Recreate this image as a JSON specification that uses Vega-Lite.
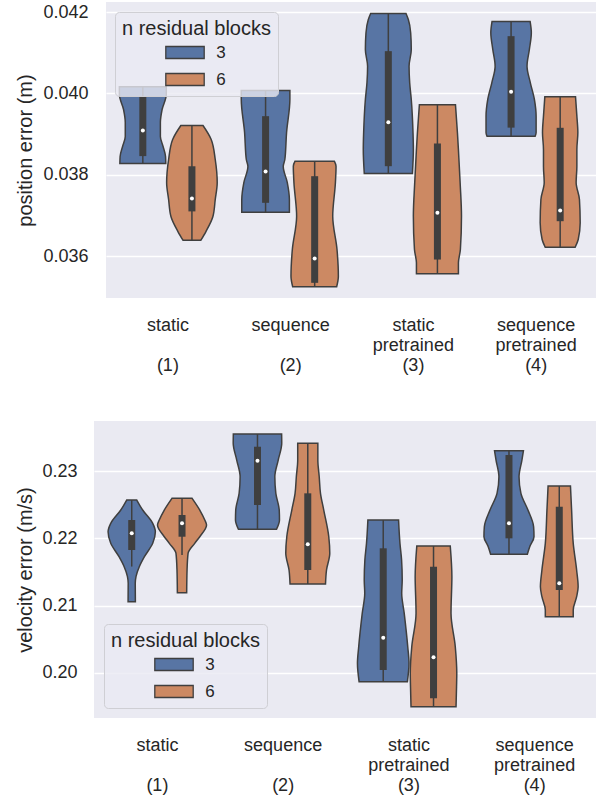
{
  "$schema": "https://vega.github.io/schema/vega-lite/v6.json",
  "padding": {"left": 14, "top": 2, "right": 0, "bottom": 0},
  "datasets": {
    "pos_shape": [
      {"m": 1, "blocks": "3", "y": 0.040165, "w": 0.191}, {"m": 1, "blocks": "3", "y": 0.039975, "w": 0.191}, {"m": 1, "blocks": "3", "y": 0.039606, "w": 0.157}, {"m": 1, "blocks": "3", "y": 0.039287, "w": 0.143}, {"m": 1, "blocks": "3", "y": 0.038942, "w": 0.143}, {"m": 1, "blocks": "3", "y": 0.038696, "w": 0.165}, {"m": 1, "blocks": "3", "y": 0.03845, "w": 0.185}, {"m": 1, "blocks": "3", "y": 0.038278, "w": 0.187},
      {"m": 1, "blocks": "6", "y": 0.039213, "w": 0.09}, {"m": 1, "blocks": "6", "y": 0.038869, "w": 0.157}, {"m": 1, "blocks": "6", "y": 0.038376, "w": 0.19}, {"m": 1, "blocks": "6", "y": 0.03781, "w": 0.206}, {"m": 1, "blocks": "6", "y": 0.037392, "w": 0.19}, {"m": 1, "blocks": "6", "y": 0.036974, "w": 0.171}, {"m": 1, "blocks": "6", "y": 0.036605, "w": 0.114}, {"m": 1, "blocks": "6", "y": 0.036391, "w": 0.073},
      {"m": 2, "blocks": "3", "y": 0.040074, "w": 0.198}, {"m": 2, "blocks": "3", "y": 0.039852, "w": 0.198}, {"m": 2, "blocks": "3", "y": 0.039041, "w": 0.171}, {"m": 2, "blocks": "3", "y": 0.038376, "w": 0.157}, {"m": 2, "blocks": "3", "y": 0.038204, "w": 0.144}, {"m": 2, "blocks": "3", "y": 0.03781, "w": 0.177}, {"m": 2, "blocks": "3", "y": 0.037392, "w": 0.194}, {"m": 2, "blocks": "3", "y": 0.03708, "w": 0.194},
      {"m": 2, "blocks": "6", "y": 0.038335, "w": 0.16}, {"m": 2, "blocks": "6", "y": 0.038212, "w": 0.174}, {"m": 2, "blocks": "6", "y": 0.03781, "w": 0.169}, {"m": 2, "blocks": "6", "y": 0.036982, "w": 0.147}, {"m": 2, "blocks": "6", "y": 0.036162, "w": 0.182}, {"m": 2, "blocks": "6", "y": 0.035505, "w": 0.193}, {"m": 2, "blocks": "6", "y": 0.035245, "w": 0.179},
      {"m": 3, "blocks": "3", "y": 0.041968, "w": 0.144}, {"m": 3, "blocks": "3", "y": 0.04182, "w": 0.163}, {"m": 3, "blocks": "3", "y": 0.041493, "w": 0.182}, {"m": 3, "blocks": "3", "y": 0.041082, "w": 0.187}, {"m": 3, "blocks": "3", "y": 0.040672, "w": 0.169}, {"m": 3, "blocks": "3", "y": 0.040263, "w": 0.174}, {"m": 3, "blocks": "3", "y": 0.039852, "w": 0.187}, {"m": 3, "blocks": "3", "y": 0.039041, "w": 0.201}, {"m": 3, "blocks": "3", "y": 0.038622, "w": 0.204}, {"m": 3, "blocks": "3", "y": 0.038032, "w": 0.196},
      {"m": 3, "blocks": "6", "y": 0.039722, "w": 0.147}, {"m": 3, "blocks": "6", "y": 0.039033, "w": 0.163}, {"m": 3, "blocks": "6", "y": 0.038622, "w": 0.171}, {"m": 3, "blocks": "6", "y": 0.037803, "w": 0.185}, {"m": 3, "blocks": "6", "y": 0.036982, "w": 0.196}, {"m": 3, "blocks": "6", "y": 0.036162, "w": 0.187}, {"m": 3, "blocks": "6", "y": 0.035835, "w": 0.171}, {"m": 3, "blocks": "6", "y": 0.035565, "w": 0.171},
      {"m": 4, "blocks": "3", "y": 0.041771, "w": 0.155}, {"m": 4, "blocks": "3", "y": 0.041493, "w": 0.165}, {"m": 4, "blocks": "3", "y": 0.041082, "w": 0.149}, {"m": 4, "blocks": "3", "y": 0.040672, "w": 0.13}, {"m": 4, "blocks": "3", "y": 0.040263, "w": 0.157}, {"m": 4, "blocks": "3", "y": 0.039852, "w": 0.19}, {"m": 4, "blocks": "3", "y": 0.039434, "w": 0.204}, {"m": 4, "blocks": "3", "y": 0.039041, "w": 0.204}, {"m": 4, "blocks": "3", "y": 0.03895, "w": 0.196},
      {"m": 4, "blocks": "6", "y": 0.039919, "w": 0.125}, {"m": 4, "blocks": "6", "y": 0.039442, "w": 0.136}, {"m": 4, "blocks": "6", "y": 0.039041, "w": 0.144}, {"m": 4, "blocks": "6", "y": 0.038622, "w": 0.136}, {"m": 4, "blocks": "6", "y": 0.038212, "w": 0.136}, {"m": 4, "blocks": "6", "y": 0.03781, "w": 0.13}, {"m": 4, "blocks": "6", "y": 0.037392, "w": 0.157}, {"m": 4, "blocks": "6", "y": 0.036819, "w": 0.163}, {"m": 4, "blocks": "6", "y": 0.036409, "w": 0.147}, {"m": 4, "blocks": "6", "y": 0.036219, "w": 0.122}
    ],
    "pos_box": [
      {"m": 1, "blocks": "3", "wlo": 0.038278, "whi": 0.040165, "q1": 0.03846, "q3": 0.03993, "med": 0.03909},
      {"m": 1, "blocks": "6", "wlo": 0.036391, "whi": 0.039213, "q1": 0.0371, "q3": 0.03821, "med": 0.037417},
      {"m": 2, "blocks": "3", "wlo": 0.03708, "whi": 0.040074, "q1": 0.037311, "q3": 0.039442, "med": 0.038081},
      {"m": 2, "blocks": "6", "wlo": 0.035245, "whi": 0.038335, "q1": 0.035343, "q3": 0.037966, "med": 0.035941},
      {"m": 3, "blocks": "3", "wlo": 0.038032, "whi": 0.041968, "q1": 0.038212, "q3": 0.041041, "med": 0.039294},
      {"m": 3, "blocks": "6", "wlo": 0.035565, "whi": 0.039722, "q1": 0.035916, "q3": 0.03877, "med": 0.037065},
      {"m": 4, "blocks": "3", "wlo": 0.03895, "whi": 0.041771, "q1": 0.03916, "q3": 0.04141, "med": 0.040042},
      {"m": 4, "blocks": "6", "wlo": 0.036219, "whi": 0.039919, "q1": 0.036859, "q3": 0.039156, "med": 0.037122}
    ],
    "vel_shape": [
      {"m": 1, "blocks": "3", "y": 0.225699, "w": 0.04}, {"m": 1, "blocks": "3", "y": 0.224211, "w": 0.087}, {"m": 1, "blocks": "3", "y": 0.222232, "w": 0.167}, {"m": 1, "blocks": "3", "y": 0.220982, "w": 0.188}, {"m": 1, "blocks": "3", "y": 0.219256, "w": 0.167}, {"m": 1, "blocks": "3", "y": 0.217262, "w": 0.101}, {"m": 1, "blocks": "3", "y": 0.2158, "w": 0.061}, {"m": 1, "blocks": "3", "y": 0.2143, "w": 0.034}, {"m": 1, "blocks": "3", "y": 0.213304, "w": 0.028}, {"m": 1, "blocks": "3", "y": 0.210565, "w": 0.029},
      {"m": 1, "blocks": "6", "y": 0.225952, "w": 0.08}, {"m": 1, "blocks": "6", "y": 0.224211, "w": 0.141}, {"m": 1, "blocks": "6", "y": 0.222723, "w": 0.181}, {"m": 1, "blocks": "6", "y": 0.221979, "w": 0.195}, {"m": 1, "blocks": "6", "y": 0.220238, "w": 0.141}, {"m": 1, "blocks": "6", "y": 0.219256, "w": 0.101}, {"m": 1, "blocks": "6", "y": 0.217768, "w": 0.048}, {"m": 1, "blocks": "6", "y": 0.215283, "w": 0.04}, {"m": 1, "blocks": "6", "y": 0.211905, "w": 0.037},
      {"m": 2, "blocks": "3", "y": 0.235521, "w": 0.192}, {"m": 2, "blocks": "3", "y": 0.234137, "w": 0.193}, {"m": 2, "blocks": "3", "y": 0.231651, "w": 0.165}, {"m": 2, "blocks": "3", "y": 0.229166, "w": 0.138}, {"m": 2, "blocks": "3", "y": 0.226696, "w": 0.146}, {"m": 2, "blocks": "3", "y": 0.224211, "w": 0.173}, {"m": 2, "blocks": "3", "y": 0.222723, "w": 0.175}, {"m": 2, "blocks": "3", "y": 0.221339, "w": 0.151},
      {"m": 2, "blocks": "6", "y": 0.234137, "w": 0.08}, {"m": 2, "blocks": "6", "y": 0.231651, "w": 0.08}, {"m": 2, "blocks": "6", "y": 0.229166, "w": 0.091}, {"m": 2, "blocks": "6", "y": 0.226696, "w": 0.101}, {"m": 2, "blocks": "6", "y": 0.224211, "w": 0.127}, {"m": 2, "blocks": "6", "y": 0.220238, "w": 0.167}, {"m": 2, "blocks": "6", "y": 0.217768, "w": 0.175}, {"m": 2, "blocks": "6", "y": 0.215283, "w": 0.149}, {"m": 2, "blocks": "6", "y": 0.213199, "w": 0.141},
      {"m": 3, "blocks": "3", "y": 0.222723, "w": 0.122}, {"m": 3, "blocks": "3", "y": 0.219256, "w": 0.133}, {"m": 3, "blocks": "3", "y": 0.216771, "w": 0.146}, {"m": 3, "blocks": "3", "y": 0.213795, "w": 0.151}, {"m": 3, "blocks": "3", "y": 0.211816, "w": 0.147}, {"m": 3, "blocks": "3", "y": 0.20884, "w": 0.167}, {"m": 3, "blocks": "3", "y": 0.20387, "w": 0.195}, {"m": 3, "blocks": "3", "y": 0.2014, "w": 0.205}, {"m": 3, "blocks": "3", "y": 0.198661, "w": 0.192},
      {"m": 3, "blocks": "6", "y": 0.218854, "w": 0.133}, {"m": 3, "blocks": "6", "y": 0.214286, "w": 0.146}, {"m": 3, "blocks": "6", "y": 0.20884, "w": 0.139}, {"m": 3, "blocks": "6", "y": 0.20387, "w": 0.173}, {"m": 3, "blocks": "6", "y": 0.199912, "w": 0.185}, {"m": 3, "blocks": "6", "y": 0.197918, "w": 0.183}, {"m": 3, "blocks": "6", "y": 0.19494, "w": 0.179},
      {"m": 4, "blocks": "3", "y": 0.233036, "w": 0.115}, {"m": 4, "blocks": "3", "y": 0.231651, "w": 0.103}, {"m": 4, "blocks": "3", "y": 0.229166, "w": 0.08}, {"m": 4, "blocks": "3", "y": 0.226696, "w": 0.095}, {"m": 4, "blocks": "3", "y": 0.224211, "w": 0.151}, {"m": 4, "blocks": "3", "y": 0.221726, "w": 0.196}, {"m": 4, "blocks": "3", "y": 0.220238, "w": 0.199}, {"m": 4, "blocks": "3", "y": 0.21875, "w": 0.165}, {"m": 4, "blocks": "3", "y": 0.217619, "w": 0.146},
      {"m": 4, "blocks": "6", "y": 0.227783, "w": 0.089}, {"m": 4, "blocks": "6", "y": 0.224211, "w": 0.098}, {"m": 4, "blocks": "6", "y": 0.219256, "w": 0.111}, {"m": 4, "blocks": "6", "y": 0.215283, "w": 0.138}, {"m": 4, "blocks": "6", "y": 0.212798, "w": 0.15}, {"m": 4, "blocks": "6", "y": 0.21131, "w": 0.138}, {"m": 4, "blocks": "6", "y": 0.209331, "w": 0.111}, {"m": 4, "blocks": "6", "y": 0.208333, "w": 0.111}
    ],
    "vel_box": [
      {"m": 1, "blocks": "3", "wlo": 0.2158, "whi": 0.225699, "q1": 0.218259, "q3": 0.222723, "med": 0.220744},
      {"m": 1, "blocks": "6", "wlo": 0.2175, "whi": 0.225952, "q1": 0.220238, "q3": 0.223467, "med": 0.222232},
      {"m": 2, "blocks": "3", "wlo": 0.221339, "whi": 0.235521, "q1": 0.224955, "q3": 0.233631, "med": 0.231548},
      {"m": 2, "blocks": "6", "wlo": 0.213199, "whi": 0.234137, "q1": 0.215283, "q3": 0.226696, "med": 0.219107},
      {"m": 3, "blocks": "3", "wlo": 0.198661, "whi": 0.222723, "q1": 0.200402, "q3": 0.218512, "med": 0.205208},
      {"m": 3, "blocks": "6", "wlo": 0.19494, "whi": 0.218854, "q1": 0.19619, "q3": 0.215774, "med": 0.202292},
      {"m": 4, "blocks": "3", "wlo": 0.217619, "whi": 0.233036, "q1": 0.22, "q3": 0.232396, "med": 0.222232},
      {"m": 4, "blocks": "6", "wlo": 0.208333, "whi": 0.227783, "q1": 0.212307, "q3": 0.224702, "med": 0.213304}
    ]
  },
  "concat": [
    {"width": 1, "height": 1, "view": {"fill": null, "stroke": null}, "data": {"values": []}, "mark": "point"},
    {
      "width": 491, "height": 296,
      "layer": [
        {
          "data": {"name": "pos_shape"},
          "transform": [
            {"calculate": "datum.m + (datum.blocks === '3' ? -0.2 : 0.2)", "as": "xc"},
            {"calculate": "datum.xc - datum.w", "as": "x0"},
            {"calculate": "datum.xc + datum.w", "as": "x1"}
          ],
          "mark": {"type": "area", "orient": "horizontal", "interpolate": "monotone", "stroke": "#3f3f3f", "strokeWidth": 1.5, "opacity": 1},
          "encoding": {
            "y": {"field": "y", "type": "quantitative", "title": "position error (m)", "scale": {"domain": [0.03497, 0.04225], "nice": false, "zero": false},
                  "axis": {"values": [0.036, 0.038, 0.04, 0.042], "format": ".3f", "labelPadding": 18, "titlePadding": 7}},
            "x": {"field": "x0", "type": "quantitative", "title": null, "stack": null, "scale": {"domain": [0.5, 4.5], "nice": false, "zero": false},
                  "axis": {"values": [1, 2, 3, 4], "labelExpr": "datum.value == 1 ? ['static', '\u200b', '(1)'] : datum.value == 2 ? ['sequence', '\u200b', '(2)'] : datum.value == 3 ? ['static', 'pretrained', '(3)'] : ['sequence', 'pretrained', '(4)']"}},
            "x2": {"field": "x1"},
            "color": {"field": "blocks", "type": "nominal", "scale": {"domain": ["3", "6"], "range": ["#5875a4", "#cc8963"]},
                      "legend": {"title": "n residual blocks", "legendX": 9, "legendY": 10}},
            "detail": {"field": "m", "type": "nominal"}
          }
        },
        {
          "data": {"name": "pos_box"},
          "transform": [{"calculate": "datum.m + (datum.blocks === '3' ? -0.2 : 0.2)", "as": "xc"}],
          "mark": {"type": "rule", "color": "#3f3f3f", "strokeWidth": 1.5},
          "encoding": {
            "x": {"field": "xc", "type": "quantitative", "title": null, "scale": {"domain": [0.5, 4.5], "nice": false, "zero": false}},
            "y": {"field": "wlo", "type": "quantitative", "title": "position error (m)", "scale": {"domain": [0.03497, 0.04225], "nice": false, "zero": false}},
            "y2": {"field": "whi"}
          }
        },
        {
          "data": {"name": "pos_box"},
          "transform": [{"calculate": "datum.m + (datum.blocks === '3' ? -0.2 : 0.2)", "as": "xc"}],
          "mark": {"type": "rule", "color": "#3f3f3f", "strokeWidth": 7},
          "encoding": {
            "x": {"field": "xc", "type": "quantitative", "title": null, "scale": {"domain": [0.5, 4.5], "nice": false, "zero": false}},
            "y": {"field": "q1", "type": "quantitative", "title": "position error (m)", "scale": {"domain": [0.03497, 0.04225], "nice": false, "zero": false}},
            "y2": {"field": "q3"}
          }
        },
        {
          "data": {"name": "pos_box"},
          "transform": [{"calculate": "datum.m + (datum.blocks === '3' ? -0.2 : 0.2)", "as": "xc"}],
          "mark": {"type": "circle", "color": "white", "size": 16, "opacity": 1},
          "encoding": {
            "x": {"field": "xc", "type": "quantitative", "title": null, "scale": {"domain": [0.5, 4.5], "nice": false, "zero": false}},
            "y": {"field": "med", "type": "quantitative", "title": "position error (m)", "scale": {"domain": [0.03497, 0.04225], "nice": false, "zero": false}}
          }
        }
      ]
    },
    {"width": 1, "height": 1, "view": {"fill": null, "stroke": null}, "data": {"values": []}, "mark": "point"},
    {
      "width": 503, "height": 297,
      "layer": [
        {
          "data": {"name": "vel_shape"},
          "transform": [
            {"calculate": "datum.m + (datum.blocks === '3' ? -0.2 : 0.2)", "as": "xc"},
            {"calculate": "datum.xc - datum.w", "as": "x0"},
            {"calculate": "datum.xc + datum.w", "as": "x1"}
          ],
          "mark": {"type": "area", "orient": "horizontal", "interpolate": "monotone", "stroke": "#3f3f3f", "strokeWidth": 1.5, "opacity": 1},
          "encoding": {
            "y": {"field": "y", "type": "quantitative", "title": "velocity error (m/s)", "scale": {"domain": [0.19326, 0.23746], "nice": false, "zero": false},
                  "axis": {"values": [0.2, 0.21, 0.22, 0.23], "format": ".2f", "labelPadding": 17, "titlePadding": 6}},
            "x": {"field": "x0", "type": "quantitative", "title": null, "stack": null, "scale": {"domain": [0.5, 4.5], "nice": false, "zero": false},
                  "axis": {"values": [1, 2, 3, 4], "labelExpr": "datum.value == 1 ? ['static', '\u200b', '(1)'] : datum.value == 2 ? ['sequence', '\u200b', '(2)'] : datum.value == 3 ? ['static', 'pretrained', '(3)'] : ['sequence', 'pretrained', '(4)']"}},
            "x2": {"field": "x1"},
            "color": {"field": "blocks", "type": "nominal", "scale": {"domain": ["3", "6"], "range": ["#5875a4", "#cc8963"]},
                      "legend": {"title": "n residual blocks", "legendX": 10, "legendY": 203}},
            "detail": {"field": "m", "type": "nominal"}
          }
        },
        {
          "data": {"name": "vel_box"},
          "transform": [{"calculate": "datum.m + (datum.blocks === '3' ? -0.2 : 0.2)", "as": "xc"}],
          "mark": {"type": "rule", "color": "#3f3f3f", "strokeWidth": 1.5},
          "encoding": {
            "x": {"field": "xc", "type": "quantitative", "title": null, "scale": {"domain": [0.5, 4.5], "nice": false, "zero": false}},
            "y": {"field": "wlo", "type": "quantitative", "title": "velocity error (m/s)", "scale": {"domain": [0.19326, 0.23746], "nice": false, "zero": false}},
            "y2": {"field": "whi"}
          }
        },
        {
          "data": {"name": "vel_box"},
          "transform": [{"calculate": "datum.m + (datum.blocks === '3' ? -0.2 : 0.2)", "as": "xc"}],
          "mark": {"type": "rule", "color": "#3f3f3f", "strokeWidth": 7},
          "encoding": {
            "x": {"field": "xc", "type": "quantitative", "title": null, "scale": {"domain": [0.5, 4.5], "nice": false, "zero": false}},
            "y": {"field": "q1", "type": "quantitative", "title": "velocity error (m/s)", "scale": {"domain": [0.19326, 0.23746], "nice": false, "zero": false}},
            "y2": {"field": "q3"}
          }
        },
        {
          "data": {"name": "vel_box"},
          "transform": [{"calculate": "datum.m + (datum.blocks === '3' ? -0.2 : 0.2)", "as": "xc"}],
          "mark": {"type": "circle", "color": "white", "size": 16, "opacity": 1},
          "encoding": {
            "x": {"field": "xc", "type": "quantitative", "title": null, "scale": {"domain": [0.5, 4.5], "nice": false, "zero": false}},
            "y": {"field": "med", "type": "quantitative", "title": "velocity error (m/s)", "scale": {"domain": [0.19326, 0.23746], "nice": false, "zero": false}}
          }
        }
      ]
    }
  ],
  "columns": 2,
  "align": "none",
  "bounds": "full",
  "spacing": {"row": 46, "column": 0},
  "resolve": {
    "scale": {"x": "independent", "y": "independent", "color": "independent"},
    "axis": {"x": "independent", "y": "independent"},
    "legend": {"color": "independent"}
  },
  "config": {
    "font": "Liberation Sans",
    "view": {"fill": "#EAEAF2", "stroke": null},
    "axis": {"domain": false, "ticks": false, "tickSize": 0, "labelColor": "#262626", "titleColor": "#262626", "labelFontSize": 18, "titleFontSize": 20, "titleFontWeight": "normal", "gridColor": "#ffffff", "gridWidth": 1.5, "gridOpacity": 1},
    "axisX": {"grid": false, "labelLineHeight": 20, "labelPadding": 18.5, "labelOverlap": false, "labelFlush": false},
    "legend": {
      "orient": "none", "padding": 7, "fillColor": "rgba(234,234,242,0.8)", "strokeColor": "#cfcfd4", "strokeWidth": 1, "cornerRadius": 4,
      "titleFontSize": 20, "titleFontWeight": "normal", "titleColor": "#262626", "titlePadding": 5,
      "labelFontSize": 17, "labelColor": "#262626",
      "symbolType": "M-3.2,-1H3.2V1H-3.2Z", "symbolSize": 144, "symbolOffset": 54.5, "labelOffset": 22.8, "rowPadding": 8,
      "symbolStrokeColor": "#3f3f3f", "symbolStrokeWidth": 1.3, "symbolOpacity": 1
    }
  }
}
